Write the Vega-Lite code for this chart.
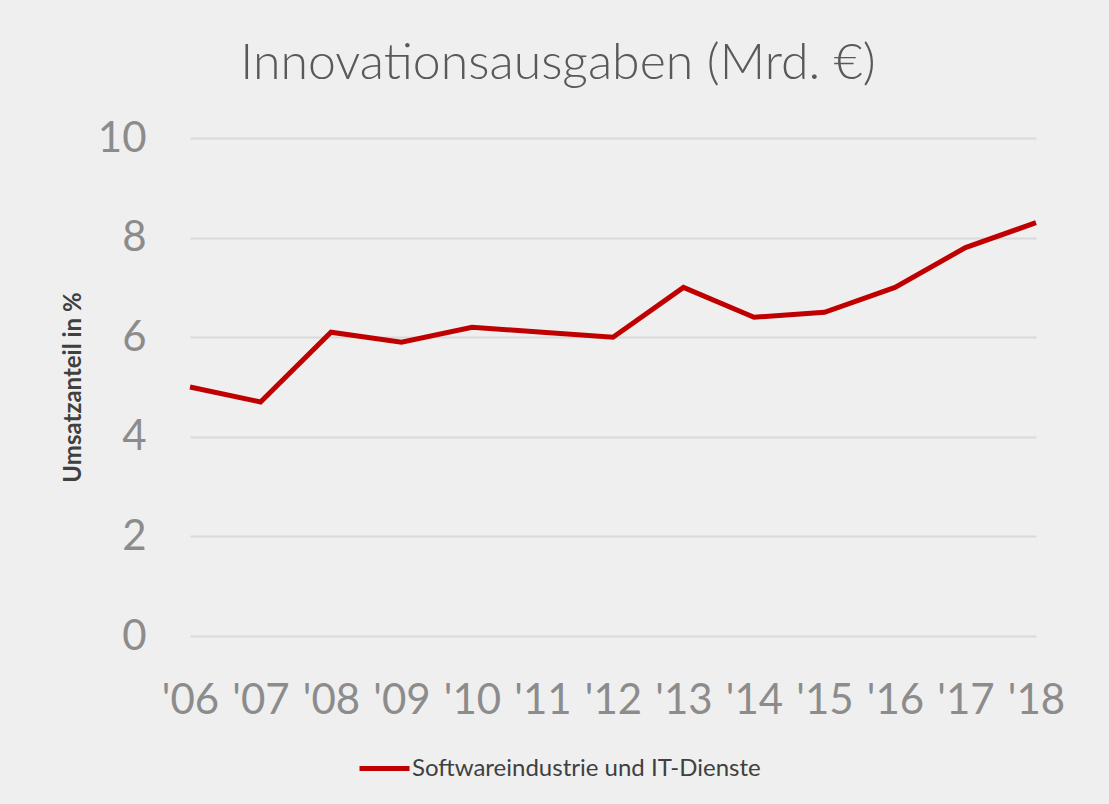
{
  "$schema": "https://vega.github.io/schema/vega-lite/v6.json",
  "width": 846,
  "height": 498,
  "autosize": "none",
  "padding": {"left": 190, "top": 138, "right": 73, "bottom": 168},
  "background": "#efefef",
  "title": {
    "text": "Innovationsausgaben (Mrd. €)",
    "font": "Lato",
    "fontSize": 50,
    "fontWeight": 300,
    "color": "#595959",
    "anchor": "middle",
    "dx": -55,
    "offset": 28
  },
  "data": {
    "values": [
      {"year": "'06", "value": 5.0, "series": "Softwareindustrie und IT-Dienste"},
      {"year": "'07", "value": 4.7, "series": "Softwareindustrie und IT-Dienste"},
      {"year": "'08", "value": 6.1, "series": "Softwareindustrie und IT-Dienste"},
      {"year": "'09", "value": 5.9, "series": "Softwareindustrie und IT-Dienste"},
      {"year": "'10", "value": 6.2, "series": "Softwareindustrie und IT-Dienste"},
      {"year": "'11", "value": 6.1, "series": "Softwareindustrie und IT-Dienste"},
      {"year": "'12", "value": 6.0, "series": "Softwareindustrie und IT-Dienste"},
      {"year": "'13", "value": 7.0, "series": "Softwareindustrie und IT-Dienste"},
      {"year": "'14", "value": 6.4, "series": "Softwareindustrie und IT-Dienste"},
      {"year": "'15", "value": 6.5, "series": "Softwareindustrie und IT-Dienste"},
      {"year": "'16", "value": 7.0, "series": "Softwareindustrie und IT-Dienste"},
      {"year": "'17", "value": 7.8, "series": "Softwareindustrie und IT-Dienste"},
      {"year": "'18", "value": 8.3, "series": "Softwareindustrie und IT-Dienste"}
    ]
  },
  "mark": {"type": "line", "strokeWidth": 5, "strokeJoin": "miter"},
  "encoding": {
    "x": {
      "field": "year",
      "type": "ordinal",
      "scale": {"type": "point", "padding": 0},
      "axis": {
        "title": null,
        "labelAngle": 0,
        "labelFont": "Lato",
        "labelFontSize": 42,
        "labelColor": "#8c8c8c",
        "labelPadding": 44,
        "ticks": false,
        "domain": false,
        "grid": false
      }
    },
    "y": {
      "field": "value",
      "type": "quantitative",
      "scale": {"domain": [0, 10]},
      "axis": {
        "values": [0, 2, 4, 6, 8, 10],
        "title": "Umsatzanteil in %",
        "titleFont": "Lato",
        "titleFontSize": 24,
        "titleFontWeight": "bold",
        "titleColor": "#404040",
        "titlePadding": 12,
        "labelFont": "Lato",
        "labelFontSize": 42,
        "labelColor": "#8c8c8c",
        "labelPadding": 44,
        "ticks": false,
        "domain": false,
        "grid": true,
        "gridColor": "#d9d9d9",
        "gridWidth": 2
      }
    },
    "color": {
      "field": "series",
      "type": "nominal",
      "scale": {"range": ["#c00000"]},
      "legend": {
        "title": null,
        "orient": "none",
        "legendX": 167,
        "legendY": 603,
        "symbolType": "stroke",
        "symbolSize": 2500,
        "symbolStrokeWidth": 5,
        "labelFont": "Lato",
        "labelFontSize": 24,
        "labelColor": "#404040",
        "labelOffset": 0,
        "labelLimit": 600
      }
    }
  },
  "config": {
    "view": {"stroke": null}
  }
}
